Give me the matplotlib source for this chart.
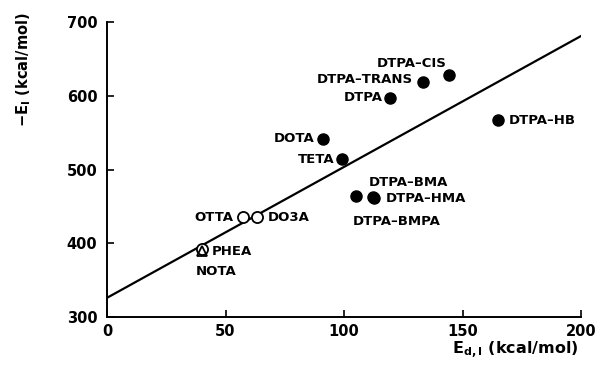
import matplotlib
matplotlib.use("Agg")
import matplotlib.pyplot as plt
import numpy as np
from matplotlib.ticker import MultipleLocator

# data
names = ["DTPA-CIS", "DTPA-TRANS", "DTPA", "DTPA-HB", "DOTA", "TETA",
         "DTPA-BMA", "DTPA-HMA", "DTPA-BMPA"]
ed = [144.5, 133.2, 119.4, 165.0, 91.1, 99.0, 105.0, 112.4, 112.8]
ei = [628, 619, 597, 567, 542, 514, 464, 463, 461]

open_names = ["OTTA", "DO3A", "PHEA"]
open_ed = [57.5, 63.5, 39.9]
open_ei = [435, 435, 392]

tri_names = ["NOTA"]
tri_ed = [39.9]
tri_ei = [390]

fit_x = [0, 200]
fit_y = [326, 681]

# label offsets in pixels (dx, dy, ha)
offsets = {
    "DTPA-CIS": (-3, 12, "right"), "DTPA-TRANS": (-10, 2, "right"),
    "DTPA": (-7, 0, "right"), "DTPA-HB": (11, 0, "left"),
    "DOTA": (-8, 0, "right"), "TETA": (-7, 0, "right"),
    "DTPA-BMA": (13, 14, "left"), "DTPA-HMA": (12, -2, "left"),
    "DTPA-BMPA": (-22, -23, "left"), "OTTA": (-10, 0, "right"),
    "DO3A": (10, 0, "left"), "PHEA": (10, -2, "left"),
    "NOTA": (-6, -21, "left"),
}

plt.rcParams['font.family'] = ['DejaVu Sans']
plt.rcParams['font.weight'] = 'bold'

fig = plt.figure(figsize=(5.97, 3.77), dpi=100)
ax = fig.add_axes([107/597, 60/377, 474/597, 295/377])

ax.plot(fit_x, fit_y, color="black", lw=1.6, zorder=1)
ax.plot(ed, ei, "o", color="black", ms=8, zorder=3)
ax.plot(open_ed, open_ei, "o", mfc="white", mec="black", mew=1.3, ms=8, zorder=3)
ax.plot(tri_ed, tri_ei, "^", mfc="none", mec="black", mew=1.3, ms=7, zorder=4)

for n, x, y in zip(names + open_names + tri_names, ed + open_ed + tri_ed,
                   ei + open_ei + tri_ei):
    dx, dy, ha = offsets[n]
    ax.annotate(n.replace("-", "\u2013"), (x, y), xytext=(dx, dy),
                textcoords="offset pixels", ha=ha, va="center",
                fontsize=9.5, fontweight="bold")

ax.set_xlim(0, 200)
ax.set_ylim(300, 700)
ax.xaxis.set_major_locator(MultipleLocator(50))
ax.yaxis.set_major_locator(MultipleLocator(100))
ax.tick_params(which="both", direction="in", width=1.2, length=5, labelsize=10.5)
ax.tick_params(axis="y", pad=7)
ax.tick_params(axis="x", pad=5)
for s in ["top", "right"]:
    ax.spines[s].set_visible(False)
for s in ["left", "bottom"]:
    ax.spines[s].set_linewidth(1.4)
for lab in ax.get_xticklabels() + ax.get_yticklabels():
    lab.set_fontweight("bold")

ax.set_ylabel(r"$-$E$_\mathbf{I}$ (kcal/mol)", fontsize=10.5, fontweight="bold")
ax.yaxis.set_label_coords(-0.156, 0.837)
ax.set_xlabel(r"E$_\mathbf{d,I}$ (kcal/mol)", fontsize=11.5, fontweight="bold")
ax.xaxis.set_label_coords(0.861, -0.078)

fig.savefig("out.png", dpi=100)
